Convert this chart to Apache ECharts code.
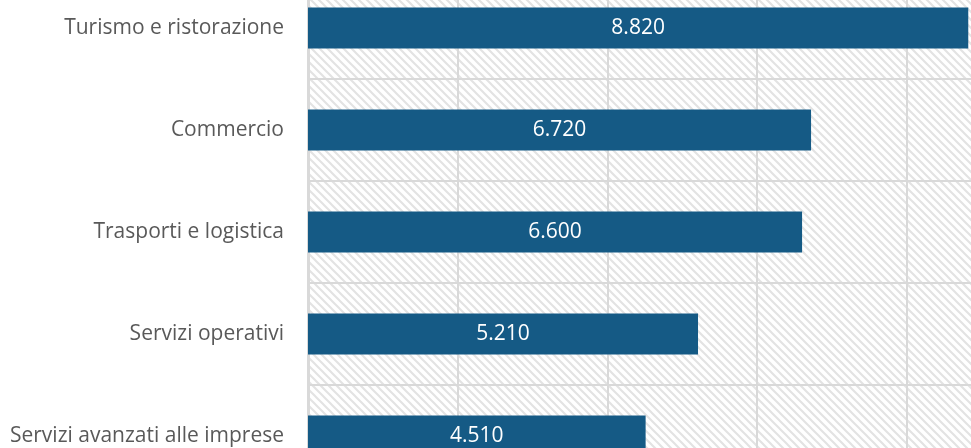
<!DOCTYPE html>
<html><head><meta charset="utf-8">
<script src="https://cdn.jsdelivr.net/npm/echarts@6/dist/echarts.min.js"></script>
<style>html,body{margin:0;padding:0;background:#fff;overflow:hidden;width:971px;height:448px}
#wrap{position:relative;width:971px;height:448px;overflow:hidden}
#c{position:absolute;left:0;top:-23px;width:1100px;height:540px}</style>
</head><body><div id="wrap"><div id="c"></div></div>
<script>
const categories = ["Turismo e ristorazione", "Commercio", "Trasporti e logistica", "Servizi operativi", "Servizi avanzati alle imprese"];
const values = [8820, 6720, 6600, 5210, 4510];

function fmt(v){ return String(v).replace(/\B(?=(\d{3})+(?!\d))/g, '.'); }

const pc = document.createElement('canvas');
pc.width = 8; pc.height = 8;
const ctx = pc.getContext('2d');
ctx.fillStyle = '#ffffff'; ctx.fillRect(0,0,8,8);
ctx.strokeStyle = '#e3e3e3'; ctx.lineWidth = 2.2;
ctx.beginPath();
ctx.moveTo(-2,-2); ctx.lineTo(10,10);
ctx.moveTo(-10,-2); ctx.lineTo(2,10);
ctx.moveTo(6,-2); ctx.lineTo(18,10);
ctx.stroke();

const chart = echarts.init(document.getElementById('c'), null, {renderer:'canvas'});
chart.setOption({
  animation: false,
  grid: {left: 308, top: 0, width: 748.6, height: 510, show: true, borderWidth: 0,
         backgroundColor: {image: pc, repeat: 'repeat'}},
  xAxis: {type: 'value', min: 0, max: 10000, interval: 2000,
          axisLabel: {show: false}, axisLine: {show: false}, axisTick: {show: false},
          splitLine: {show: true, lineStyle: {color: '#d9d9d9', width: 2}}},
  yAxis: {type: 'category', inverse: true, data: categories,
          axisLine: {show: true, lineStyle: {color: '#d9d9d9', width: 3}},
          axisTick: {show: false},
          axisLabel: {color: '#595959', fontSize: 21, margin: 24, fontFamily: 'Open Sans'},
          splitLine: {show: true, lineStyle: {color: '#d9d9d9', width: 2}}},
  series: [{type: 'bar', data: values, barWidth: 41,
            itemStyle: {color: '#155a85'},
            label: {show: true, position: 'inside', color: '#ffffff', fontSize: 21, fontFamily: 'Open Sans',
                     formatter: p => fmt(p.value)}}]
});
</script></body></html>
